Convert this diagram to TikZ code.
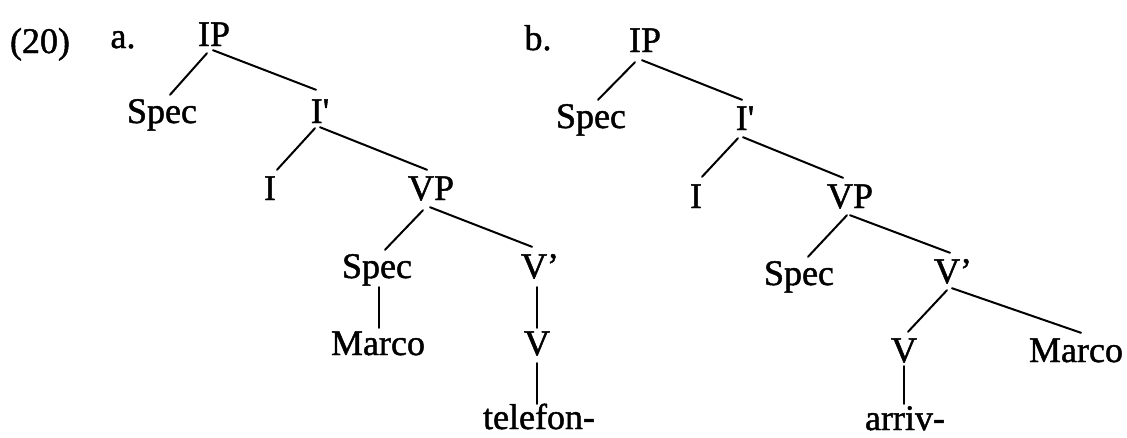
\documentclass[tikz,border=0pt]{standalone}
\usepackage{fontspec}
\newfontfamily\treefont{Liberation Serif}[FakeBold=1.3]
\begin{document}
\begin{tikzpicture}[x=1pt,y=-1pt,
  lab/.style={font=\treefont\fontsize{36}{40}\selectfont, inner sep=0pt,
              text height=23pt, text depth=0pt, anchor=base},
  br/.style={line width=2pt, line cap=round}]
\useasboundingbox (0,0) rectangle (1127,437);

% example number and sub-labels
\node[lab] (num) at (40,53) {(20)};
\node[lab] (la) at (123,48) {a.};
\node[lab] (lb) at (538,50) {b.};

% tree (a)
\node[lab] (ipa)    at (214,46)  {IP};
\node[lab] (speca)  at (162,123) {Spec};
\node[lab] (ipra)   at (320,123) {I'};
\node[lab] (ia)     at (270,200) {I};
\node[lab] (vpa)    at (431,200) {VP};
\node[lab] (spa)    at (377,278) {Spec};
\node[lab] (vba)    at (540,278) {V’};
\node[lab] (marcoa) at (378,355) {Marco};
\node[lab] (va)     at (537,355) {V};
\node[lab] (tel)    at (539,429) {telefon-};

\draw[br] ([shift={(-7,7)}]ipa.south)   -- ([shift={(8,-5)}]speca.north);
\draw[br] ([shift={(-1,4)}]ipa.south)   -- ([shift={(-4,-10)}]ipra.north);
\draw[br] ([shift={(-5,5)}]ipra.south)  -- ([shift={(7,-7)}]ia.north);
\draw[br] ([shift={(0,4)}]ipra.south)   -- ([shift={(-4,-7)}]vpa.north);
\draw[br] ([shift={(-8,10)}]vpa.south)  -- ([shift={(8,-5)}]spa.north);
\draw[br] ([shift={(-1,7)}]vpa.south)   -- ([shift={(-8,-8)}]vba.north);
\draw[br] ([shift={(2,9)}]spa.south)    -- ([shift={(1,-4)}]marcoa.north);
\draw[br] ([shift={(-3,9)}]vba.south)   -- ([shift={(0,-4)}]va.north);
\draw[br] ([shift={(0,8)}]va.south)     -- ([shift={(-2,-2)}]tel.north);

% tree (b)
\node[lab] (ipb)    at (645,52)  {IP};
\node[lab] (specb)  at (591,128) {Spec};
\node[lab] (iprb)   at (745,130) {I'};
\node[lab] (ib)     at (696,208) {I};
\node[lab] (vpb)    at (850,208) {VP};
\node[lab] (spb)    at (799,285) {Spec};
\node[lab] (vbb)    at (953,283) {V’};
\node[lab] (vb)     at (904,362) {V};
\node[lab] (marcob) at (1076,362) {Marco};
\node[lab] (arr)    at (905,430) {arriv-};

\draw[br] ([shift={(-10,10)}]ipb.south) -- ([shift={(7,-5)}]specb.north);
\draw[br] ([shift={(-3,8)}]ipb.south)   -- ([shift={(-3,-7)}]iprb.north);
\draw[br] ([shift={(-7,8)}]iprb.south)  -- ([shift={(6,-8)}]ib.north);
\draw[br] ([shift={(-2,7)}]iprb.south)  -- ([shift={(-7,-7)}]vpb.north);
\draw[br] ([shift={(-3,7)}]vpb.south)   -- ([shift={(9,-5)}]spb.north);
\draw[br] ([shift={(0,7)}]vpb.south)    -- ([shift={(-3,-7)}]vbb.north);
\draw[br] ([shift={(-6,7)}]vbb.south)   -- ([shift={(4,-7)}]vb.north);
\draw[br] ([shift={(-1,5)}]vbb.south)   -- ([shift={(5,-6)}]marcob.north);
\draw[br] ([shift={(0,4)}]vb.south)     -- ([shift={(-1,-3)}]arr.north);
\end{tikzpicture}
\end{document}
